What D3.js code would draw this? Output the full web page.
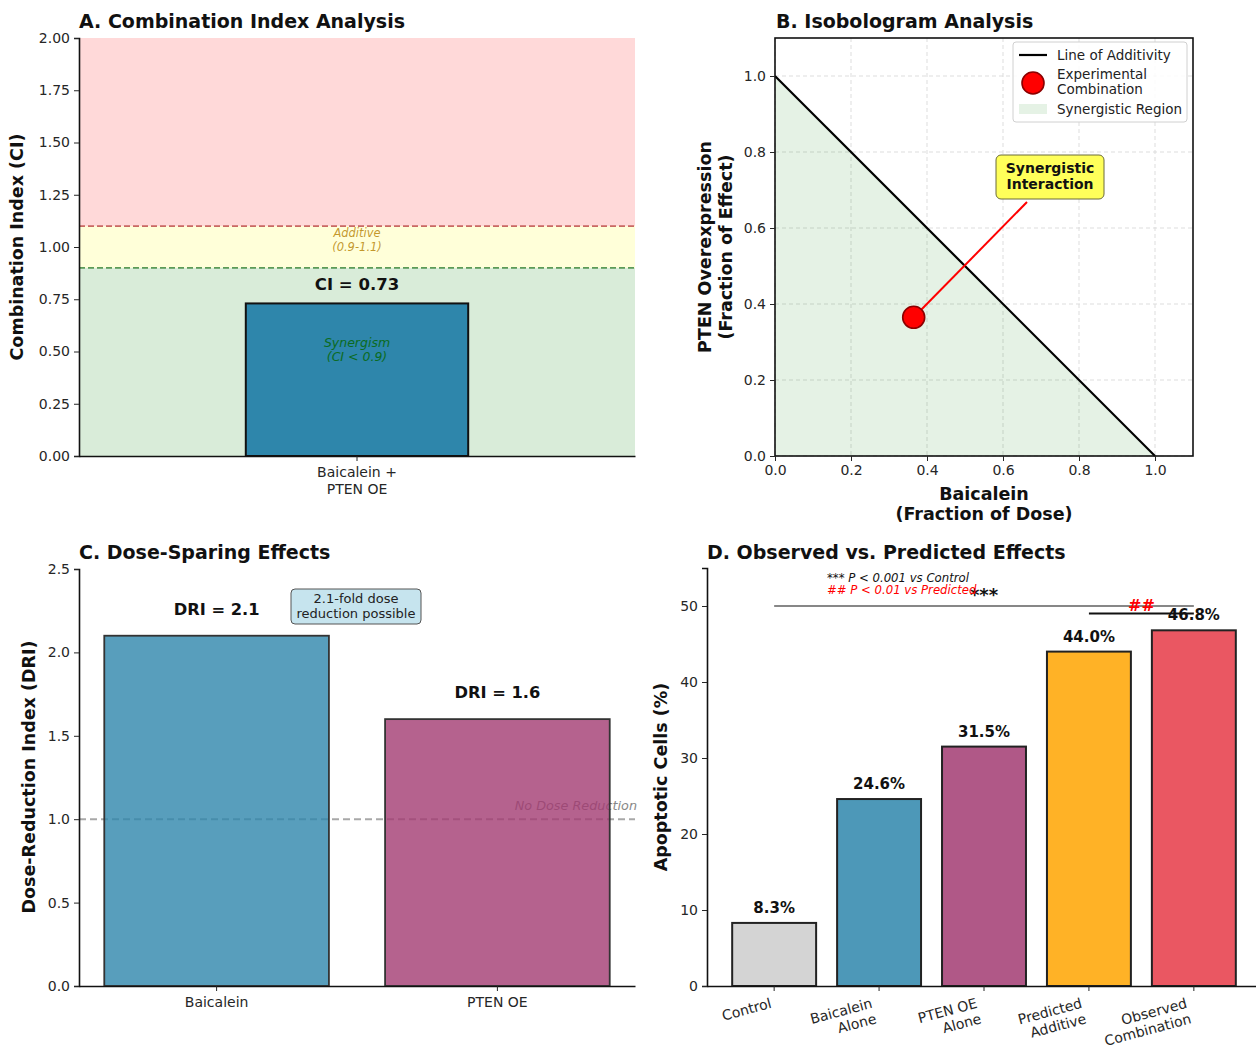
<!DOCTYPE html>
<html>
<head>
<meta charset="utf-8">
<script src="https://cdn.jsdelivr.net/npm/d3@7"></script>
<style>
  body { margin: 0; background: #fff; }
  svg, svg text { font-family: "DejaVu Sans", sans-serif; }
  .tick text { font-size: 14px; fill: #262626; font-family: "DejaVu Sans", sans-serif; }
  .tick line { stroke: #262626; }
  .domain { stroke: #111; stroke-width: 1.6px; }
</style>
</head>
<body>
<svg id="chart" width="1256" height="1048"></svg>
<script>
// ---- data ----
var ciCategory = ["Baicalein +\nPTEN OE"];
var ciValue = [0.73];
var ciTicks = [0, 0.25, 0.5, 0.75, 1.0, 1.25, 1.5, 1.75, 2.0];

var isoLine = [[0, 1], [1, 0]];
var isoPoint = [0.365, 0.365];
var isoTicks = [0, 0.2, 0.4, 0.6, 0.8, 1.0];

var driCategories = ["Baicalein", "PTEN OE"];
var driValues = [2.1, 1.6];
var driTicks = [0, 0.5, 1.0, 1.5, 2.0, 2.5];

var apopCategories = ["Control", "Baicalein\nAlone", "PTEN OE\nAlone", "Predicted\nAdditive", "Observed\nCombination"];
var apopValues = [8.3, 24.6, 31.5, 44.0, 46.8];
var apopTicks = [0, 10, 20, 30, 40, 50];

var svg = d3.select("#chart");

function title(x, y, txt) {
    svg.append("text").attr("x", x).attr("y", y)
        .attr("font-size", 19).attr("font-weight", "bold").attr("fill", "#111")
        .text(txt);
}

function multiText(g, x, y, lines, lh, attrs) {
    var t = g.append("text").attr("x", x).attr("y", y);
    for (var k in attrs) t.attr(k, attrs[k]);
    lines.forEach(function(l, i) {
        t.append("tspan").attr("x", x).attr("dy", i === 0 ? 0 : lh).text(l);
    });
    return t;
}

function yLabel(x, y, lines, lh) {
    var g = svg.append("g").attr("transform", "translate(" + x + "," + y + ") rotate(-90)");
    multiText(g, 0, -(lines.length - 1) * lh / 2, lines, lh,
        {"text-anchor": "middle", "font-size": 17.5, "font-weight": "bold", "fill": "#111", "dominant-baseline": "middle"});
}

// ================= Panel A =================
(function() {
    var L = 79, R = 635, T = 38, B = 456;
    var x = d3.scaleBand().domain(ciCategory).range([L, R]).paddingInner(0).paddingOuter(0.75);
    var y = d3.scaleLinear().domain([0, 2]).range([B, T]);
    var g = svg.append("g");

    var zones = [[1.1, 2.0, "rgba(255,0,0,0.15)"], [0.9, 1.1, "rgba(255,255,0,0.15)"], [0, 0.9, "rgba(0,128,0,0.15)"]];
    g.selectAll("rect.zone").data(zones).enter().append("rect")
        .attr("x", L).attr("width", R - L)
        .attr("y", function(d) { return y(d[1]); })
        .attr("height", function(d) { return y(d[0]) - y(d[1]); })
        .attr("fill", function(d) { return d[2]; });

    g.append("line").attr("x1", L).attr("x2", R).attr("y1", y(1.1)).attr("y2", y(1.1))
        .attr("stroke", "#c0504d").attr("stroke-opacity", 0.85).attr("stroke-width", 1.6).attr("stroke-dasharray", "6,3");
    g.append("line").attr("x1", L).attr("x2", R).attr("y1", y(0.9)).attr("y2", y(0.9))
        .attr("stroke", "#3f8a3f").attr("stroke-opacity", 0.85).attr("stroke-width", 1.6).attr("stroke-dasharray", "6,3");

    g.selectAll("rect.bar").data(ciValue).enter().append("rect")
        .attr("x", function(d, i) { return x(ciCategory[i]); })
        .attr("width", x.bandwidth())
        .attr("y", function(d) { return y(d); })
        .attr("height", function(d) { return y(0) - y(d); })
        .attr("fill", "#2E86AB").attr("stroke", "#111").attr("stroke-width", 2);

    var cx = x(ciCategory[0]) + x.bandwidth() / 2;
    g.append("text").attr("x", cx).attr("y", y(ciValue[0]) - 13).attr("text-anchor", "middle")
        .attr("font-size", 16.5).attr("font-weight", "bold").attr("fill", "#111").text("CI = " + ciValue[0]);
    multiText(g, cx, y(1.0) - 14, ["Additive", "(0.9-1.1)"], 13.5,
        {"text-anchor": "middle", "font-size": 11.5, "font-style": "italic", "fill": "#b8860b", "fill-opacity": 0.85, "dominant-baseline": "middle"});
    multiText(g, cx, y(0.45) - 19, ["Synergism", "(CI < 0.9)"], 14.5,
        {"text-anchor": "middle", "font-size": 12.5, "font-style": "italic", "fill": "#0b6b22", "dominant-baseline": "middle"});

    g.append("g").attr("transform", "translate(" + L + ",0)")
        .call(d3.axisLeft(y).tickValues(ciTicks).tickFormat(d3.format(".2f")).tickSize(5).tickPadding(4));
    var xa = g.append("g").attr("transform", "translate(0," + B + ")")
        .call(d3.axisBottom(x).tickSize(5).tickSizeOuter(0).tickFormat(""));
    xa.selectAll(".tick").each(function(d) {
        multiText(d3.select(this), 0, 21, d.split("\n"), 16.5,
            {"text-anchor": "middle", "font-size": 14, "fill": "#262626"});
    });
    title(L, 28, "A. Combination Index Analysis");
    yLabel(18, 247, ["Combination Index (CI)"], 18);
})();

// ================= Panel B =================
(function() {
    var L = 775, R = 1193, T = 38, B = 456;
    var x = d3.scaleLinear().domain([0, 1.1]).range([L, R]);
    var y = d3.scaleLinear().domain([0, 1.1]).range([B, T]);
    var g = svg.append("g");

    g.selectAll("line.gx").data(isoTicks).enter().append("line")
        .attr("x1", function(d) { return x(d); }).attr("x2", function(d) { return x(d); })
        .attr("y1", T).attr("y2", B)
        .attr("stroke", "#d9d9d9").attr("stroke-dasharray", "4,3").attr("stroke-width", 0.9);
    g.selectAll("line.gy").data(isoTicks).enter().append("line")
        .attr("y1", function(d) { return y(d); }).attr("y2", function(d) { return y(d); })
        .attr("x1", L).attr("x2", R)
        .attr("stroke", "#d9d9d9").attr("stroke-dasharray", "4,3").attr("stroke-width", 0.9);

    var tri = [[0, 0]].concat(isoLine);
    g.append("path").attr("d", "M" + tri.map(function(p) { return [x(p[0]), y(p[1])]; }).join("L") + "Z")
        .attr("fill", "rgba(0,128,0,0.1)");

    var line = d3.line().x(function(d) { return x(d[0]); }).y(function(d) { return y(d[1]); });
    g.append("path").attr("d", line(isoLine)).attr("stroke", "#000").attr("stroke-width", 2.2).attr("fill", "none");

    // annotation
    var bx = 996, by = 155, bw = 108, bh = 44;
    var px = x(isoPoint[0]), py = y(isoPoint[1]);
    g.append("line").attr("x1", 1027).attr("y1", by + bh + 3).attr("x2", px + 7).attr("y2", py - 7)
        .attr("stroke", "#ff0000").attr("stroke-width", 2);
    g.append("rect").attr("x", bx).attr("y", by).attr("width", bw).attr("height", bh).attr("rx", 5)
        .attr("fill", "#ffff5a").attr("stroke", "#6b6b3a").attr("stroke-width", 1);
    multiText(g, bx + bw / 2, by + 18, ["Synergistic", "Interaction"], 16,
        {"text-anchor": "middle", "font-size": 14, "font-weight": "bold", "fill": "#111"});

    g.append("circle").attr("cx", px).attr("cy", py).attr("r", 11)
        .attr("fill", "#ff0000").attr("stroke", "#8b0000").attr("stroke-width", 1.6);

    g.append("rect").attr("x", L).attr("y", T).attr("width", R - L).attr("height", B - T)
        .attr("fill", "none").attr("stroke", "#111").attr("stroke-width", 1.6);

    g.append("g").attr("transform", "translate(" + L + ",0)")
        .call(d3.axisLeft(y).tickValues(isoTicks).tickFormat(d3.format(".1f")).tickSize(5).tickPadding(4))
        .select(".domain").remove();
    g.append("g").attr("transform", "translate(0," + B + ")")
        .call(d3.axisBottom(x).tickValues(isoTicks).tickFormat(d3.format(".1f")).tickSize(5).tickPadding(4))
        .select(".domain").remove();

    // legend
    var lg = g.append("g").attr("transform", "translate(1013,42)");
    lg.append("rect").attr("width", 174).attr("height", 80).attr("rx", 3)
        .attr("fill", "rgba(255,255,255,0.85)").attr("stroke", "#d0d0d0");
    lg.append("line").attr("x1", 6).attr("x2", 34).attr("y1", 13).attr("y2", 13).attr("stroke", "#000").attr("stroke-width", 2.2);
    lg.append("text").attr("x", 44).attr("y", 17.5).attr("font-size", 13.5).attr("fill", "#222").text("Line of Additivity");
    lg.append("circle").attr("cx", 20).attr("cy", 41).attr("r", 11).attr("fill", "#ff0000").attr("stroke", "#8b0000").attr("stroke-width", 1.6);
    multiText(lg, 44, 37, ["Experimental", "Combination"], 14.5, {"font-size": 13.5, "fill": "#222"});
    lg.append("rect").attr("x", 6).attr("y", 62).attr("width", 28).attr("height", 10).attr("fill", "rgba(0,128,0,0.1)");
    lg.append("text").attr("x", 44).attr("y", 72).attr("font-size", 13.5).attr("fill", "#222").text("Synergistic Region");

    title(L + 1, 28, "B. Isobologram Analysis");
    yLabel(716, 247, ["PTEN Overexpression", "(Fraction of Effect)"], 21);
    multiText(g, 984, 500, ["Baicalein", "(Fraction of Dose)"], 20,
        {"text-anchor": "middle", "font-size": 17.5, "font-weight": "bold", "fill": "#111"});
})();

// ================= Panel C =================
(function() {
    var L = 79, R = 635, T = 569, B = 986;
    var x = d3.scaleBand().domain(driCategories).range([L, R]).paddingInner(0.2).paddingOuter(0.09);
    var y = d3.scaleLinear().domain([0, 2.5]).range([B, T]);
    var g = svg.append("g");
    var colors = ["#2E86AB", "#A23B72"];

    g.append("line").attr("x1", L).attr("x2", R).attr("y1", y(1)).attr("y2", y(1))
        .attr("stroke", "#999").attr("stroke-width", 2).attr("stroke-dasharray", "7,4").attr("stroke-opacity", 0.85);
    g.append("text").attr("x", R + 2).attr("y", y(1) - 9).attr("text-anchor", "end")
        .attr("font-size", 12.8).attr("font-style", "italic").attr("fill", "#888").text("No Dose Reduction");

    g.selectAll("rect.bar").data(driValues).enter().append("rect")
        .attr("x", function(d, i) { return x(driCategories[i]); })
        .attr("width", x.bandwidth())
        .attr("y", function(d) { return y(d); })
        .attr("height", function(d) { return y(0) - y(d); })
        .attr("fill", function(d, i) { return colors[i]; }).attr("fill-opacity", 0.8)
        .attr("stroke", "#333").attr("stroke-width", 1.8);

    g.selectAll("text.val").data(driValues).enter().append("text")
        .attr("x", function(d, i) { return x(driCategories[i]) + x.bandwidth() / 2; })
        .attr("y", function(d) { return y(d) - 21; })
        .attr("text-anchor", "middle").attr("font-size", 16.3).attr("font-weight", "bold").attr("fill", "#111")
        .text(function(d) { return "DRI = " + d.toFixed(1); });

    g.append("rect").attr("x", 291).attr("y", 589).attr("width", 130).attr("height", 35).attr("rx", 4)
        .attr("fill", "#c6e4ee").attr("stroke", "#555").attr("stroke-width", 1);
    multiText(g, 356, 603, [driValues[0].toFixed(1) + "-fold dose", "reduction possible"], 15,
        {"text-anchor": "middle", "font-size": 13, "fill": "#222"});

    g.append("g").attr("transform", "translate(" + L + ",0)")
        .call(d3.axisLeft(y).tickValues(driTicks).tickFormat(d3.format(".1f")).tickSize(5).tickPadding(4));
    g.append("g").attr("transform", "translate(0," + B + ")")
        .call(d3.axisBottom(x).tickSize(5).tickSizeOuter(0).tickPadding(6));

    title(L, 559, "C. Dose-Sparing Effects");
    yLabel(30, 777, ["Dose-Reduction Index (DRI)"], 18);
})();

// ================= Panel D =================
(function() {
    var L = 707, T = 568, B = 986;
    var x = d3.scaleBand().domain(apopCategories).range([L, 1261]).paddingInner(0.2).paddingOuter(0.24);
    var y = d3.scaleLinear().domain([0, 55]).range([B, T]);
    var g = svg.append("g");
    var colors = ["#CCCCCC", "#2E86AB", "#A23B72", "#FFA500", "#E63946"];
    var cx = function(i) { return x(apopCategories[i]) + x.bandwidth() / 2; };

    g.selectAll("rect.bar").data(apopValues).enter().append("rect")
        .attr("x", function(d, i) { return x(apopCategories[i]); })
        .attr("width", x.bandwidth())
        .attr("y", function(d) { return y(d); })
        .attr("height", function(d) { return y(0) - y(d); })
        .attr("fill", function(d, i) { return colors[i]; }).attr("fill-opacity", 0.85)
        .attr("stroke", "#222").attr("stroke-width", 2);

    g.selectAll("text.val").data(apopValues).enter().append("text")
        .attr("x", function(d, i) { return cx(i); })
        .attr("y", function(d) { return y(d) - 10; })
        .attr("text-anchor", "middle").attr("font-size", 15).attr("font-weight", "bold").attr("fill", "#111")
        .text(function(d) { return d.toFixed(1) + "%"; });

    // significance
    g.append("line").attr("x1", cx(0)).attr("x2", cx(4)).attr("y1", y(50)).attr("y2", y(50))
        .attr("stroke", "#111").attr("stroke-width", 1.2);
    g.append("text").attr("x", (cx(0) + cx(4)) / 2).attr("y", y(50) - 5).attr("text-anchor", "middle")
        .attr("font-size", 18).attr("font-weight", "bold").attr("fill", "#111").text("***");
    g.append("line").attr("x1", cx(3)).attr("x2", cx(4)).attr("y1", y(49)).attr("y2", y(49))
        .attr("stroke", "#111").attr("stroke-width", 2);
    g.append("text").attr("x", (cx(3) + cx(4)) / 2).attr("y", y(49) - 3).attr("text-anchor", "middle")
        .attr("font-size", 16).attr("font-weight", "bold").attr("fill", "#ff0000").text("##");
    g.append("text").attr("x", 827).attr("y", 582).attr("font-size", 11.7).attr("font-style", "italic")
        .attr("fill", "#111").text("*** P < 0.001 vs Control");
    g.append("text").attr("x", 827).attr("y", 594).attr("font-size", 11.7).attr("font-style", "italic")
        .attr("fill", "#ff0000").text("## P < 0.01 vs Predicted");

    g.append("g").attr("transform", "translate(" + L + ",0)")
        .call(d3.axisLeft(y).tickValues(apopTicks).tickSize(5).tickPadding(4));
    var xa = g.append("g").attr("transform", "translate(0," + B + ")")
        .call(d3.axisBottom(x).tickSize(5).tickSizeOuter(0).tickFormat(""));
    xa.selectAll(".tick").each(function(d) {
        var lines = d.split("\n");
        var h = lines.length * 16;
        var gt = d3.select(this).append("g")
            .attr("transform", "translate(" + (-h * 0.26 - 1) + ",9) rotate(-15)");
        multiText(gt, 0, 13, lines, 16, {"text-anchor": "end", "font-size": 14, "fill": "#262626"});
    });

    title(L, 559, "D. Observed vs. Predicted Effects");
    yLabel(662, 777, ["Apoptotic Cells (%)"], 18);
})();
</script>
</body>
</html>
